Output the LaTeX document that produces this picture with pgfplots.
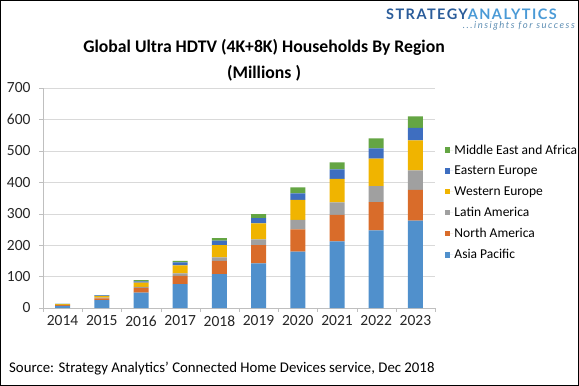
\documentclass[border=0pt]{standalone}
\usepackage{pgfplots}
\usepackage{pgfplotstable}
\pgfplotsset{compat=1.18}
\usepackage{fontspec}
\setmainfont{Carlito}
\newfontfamily\logofont[LetterSpace=10]{Lato}
\newfontfamily\tagfont[LetterSpace=16]{Lato}
\definecolor{cap}{HTML}{5090CC}
\definecolor{cna}{HTML}{D96C2A}
\definecolor{cla}{HTML}{A0A0A0}
\definecolor{cwe}{HTML}{F0B400}
\definecolor{cee}{HTML}{3E6EC0}
\definecolor{cmea}{HTML}{64A543}
\definecolor{gridc}{HTML}{D9D9D9}
\definecolor{axc}{HTML}{BFBFBF}
\definecolor{logo1}{HTML}{2A5C9A}
\definecolor{logo2}{HTML}{4A9AD6}
\pgfplotstableread{
x AP NA LA WE EE MEA
0 7 2 1 2 1 0.5
1 25 6 2 5 2 1
2 49 15 3 14 4 4
3 76 26 8 26 9 5
4 108 42 11 39 14 8
5 142 58 18 51 17 13
6 179 71 30 64 21 19
7 212 84 40 75 30 22
8 247 90 51 87 33 32
9 278 98 62 95 40 37
}\data
\begin{document}
\begin{tikzpicture}
\node[anchor=west, font=\logofont\bfseries\fontsize{14.5}{16}\selectfont, inner sep=0pt] at (386pt,372pt)
  {\textcolor{logo1}{STRATEGY}\textcolor{logo2}{ANALYTICS}};
\node[anchor=east, font=\tagfont\itshape\fontsize{9.5}{10}\selectfont, inner sep=0pt, text=logo2!60!gray] at (575pt,360pt)
  {...insights for success};
\draw[line width=1.2pt] (0.6pt,0.6pt) rectangle (578.4pt,385.4pt);
\begin{axis}[
  at={(43pt,78pt)}, anchor=south west,
  scale only axis, width=392pt, height=220pt,
  ybar stacked, bar width=15pt,
  xmin=-0.5, xmax=9.5, ymin=0, ymax=700,
  xtick={0,...,9},
  xticklabels={2014,2015,2016,2017,2018,2019,2020,2021,2022,2023},
  minor xtick={-0.5,0.5,...,9.5},
  ytick={0,100,...,700},
  axis lines*=left,
  axis line style={axc},
  major x tick style={draw=none},
  minor x tick style={axc},
  y tick style={axc},
  tick align=outside,
  major tick length=4pt, minor tick length=4pt,
  ymajorgrids, grid style={gridc},
  ticklabel style={font=\fontsize{15.5}{17}\selectfont, text=black!85},
  /pgf/number format/assume math mode=true,
  yticklabel style={xshift=-5pt},
  xticklabel style={yshift=0pt},
  reverse legend,
  legend cell align=left,
  legend style={at={(1.025,0.748)}, anchor=north west, draw=none, fill=none,
    font=\fontsize{13.5}{15}\selectfont, row sep=8.4pt, inner sep=0pt,
    nodes={inner sep=1pt}},
  legend image code/.code={\fill[#1] (0pt,-2.7pt) rectangle (5.5pt,2.8pt);
    \path (0pt,0pt) -- (8.5pt,0pt);},
]
\addplot[fill=cap, draw=none] table[x=x,y=AP]{\data};
\addlegendentry{Asia Pacific}
\addplot[fill=cna, draw=none] table[x=x,y=NA]{\data};
\addlegendentry{North America}
\addplot[fill=cla, draw=none] table[x=x,y=LA]{\data};
\addlegendentry{Latin America}
\addplot[fill=cwe, draw=none] table[x=x,y=WE]{\data};
\addlegendentry{Western Europe}
\addplot[fill=cee, draw=none] table[x=x,y=EE]{\data};
\addlegendentry{Eastern Europe}
\addplot[fill=cmea, draw=none] table[x=x,y=MEA]{\data};
\addlegendentry{Middle East and Africa}
\end{axis}
\node[font=\bfseries\fontsize{17.7}{26}\selectfont, align=center] at (264pt,326pt)
  {Global Ultra HDTV (4K+8K) Households By Region\\(Millions )};
\node[anchor=west, font=\fontsize{14.8}{17}\selectfont, inner sep=0pt] at (9pt,17pt)
  {Source: Strategy Analytics’ Connected Home Devices service, Dec 2018};
\end{tikzpicture}
\end{document}
